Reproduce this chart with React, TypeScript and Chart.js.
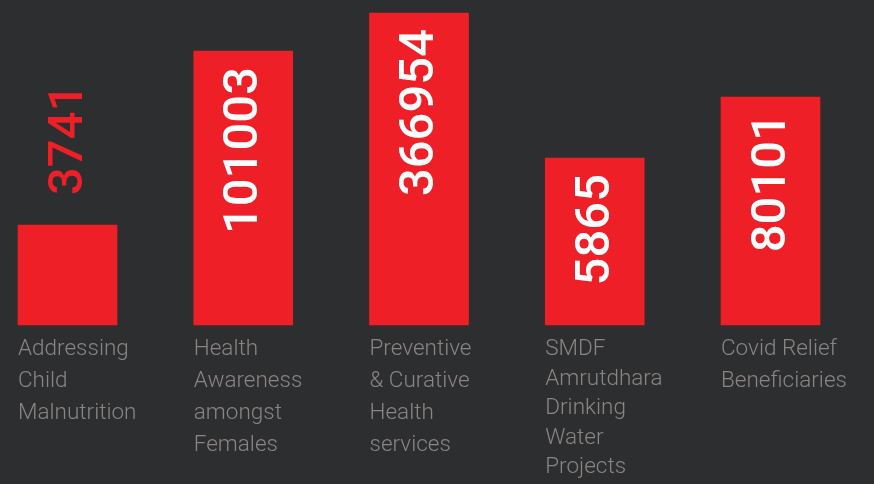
import React, { useEffect, useRef } from 'react';
import { Chart, registerables } from 'chart.js';

Chart.register(...registerables);

const categories: string[][] = [
  ['Addressing', 'Child', 'Malnutrition'],
  ['Health', 'Awareness', 'amongst', 'Females'],
  ['Preventive', '& Curative', 'Health', 'services'],
  ['SMDF', 'Amrutdhara', 'Drinking', 'Water', 'Projects'],
  ['Covid Relief', 'Beneficiaries'],
];
const beneficiaries = [3741, 101003, 366954, 5865, 80101];
// bar heights as drawn in the infographic (not proportional to the values)
const barHeights = [100, 274, 312, 167, 228];
const axisMax = 325;

const BG = '#2d2e30';
const RED = '#ee1f26';
const GREY = '#8a8582';

const labelPlugin = {
  id: 'infoLabels',
  afterDatasetsDraw(chart: any) {
    const ctx = chart.ctx as CanvasRenderingContext2D;
    const meta = chart.getDatasetMeta(0);
    meta.data.forEach((bar: any, i: number) => {
      const { x, y, base, width } = bar.getProps(['x', 'y', 'base', 'width'], true);
      const left = x - width / 2;
      // value label, rotated
      ctx.save();
      ctx.font = '500 49px Roboto';
      const text = String(beneficiaries[i]);
      const tw = ctx.measureText(text).width;
      const inside = base - y > tw + 40;
      ctx.translate(x + 14, inside ? y + 16 : y - 30);
      ctx.rotate(-Math.PI / 2);
      ctx.textBaseline = 'alphabetic';
      ctx.textAlign = inside ? 'right' : 'left';
      ctx.fillStyle = inside ? '#ffffff' : RED;
      ctx.fillText(text, 0, 0);
      ctx.restore();
      // category label
      ctx.save();
      ctx.font = '300 22.5px Roboto';
      ctx.fillStyle = GREY;
      ctx.textAlign = 'left';
      ctx.textBaseline = 'alphabetic';
      const lines = categories[i];
      const lh = lines.length > 4 ? 29.5 : 32;
      lines.forEach((ln, j) => {
        ctx.fillText(ln, left, base + 12 + 18 + j * lh);
      });
      ctx.restore();
    });
  },
};

export default function App() {
  const ref = useRef<HTMLCanvasElement>(null);
  useEffect(() => {
    if (!ref.current) return;
    const chart = new Chart(ref.current, {
      type: 'bar',
      data: {
        labels: categories.map((c) => c.join(' ')),
        datasets: [
          {
            data: barHeights,
            backgroundColor: RED,
            borderWidth: 0,
            barThickness: 99,
            clip: false as any,
          },
        ],
      },
      options: {
        responsive: false,
        animation: false,
        layout: { padding: { left: 67.5, right: 103.5, top: 0, bottom: 159 } },
        plugins: { legend: { display: false }, tooltip: { enabled: false } },
        scales: {
          x: { display: false, offset: false, grid: { display: false } },
          y: { display: false, min: 0, max: axisMax },
        },
      },
      plugins: [labelPlugin],
    });
    return () => chart.destroy();
  }, []);
  return (
    <div style={{ position: 'absolute', left: 0, top: 0, width: 874, height: 484, background: BG, overflow: 'hidden' }}>
      <canvas ref={ref} width={874} height={484} style={{ display: 'block' }} />
    </div>
  );
}
